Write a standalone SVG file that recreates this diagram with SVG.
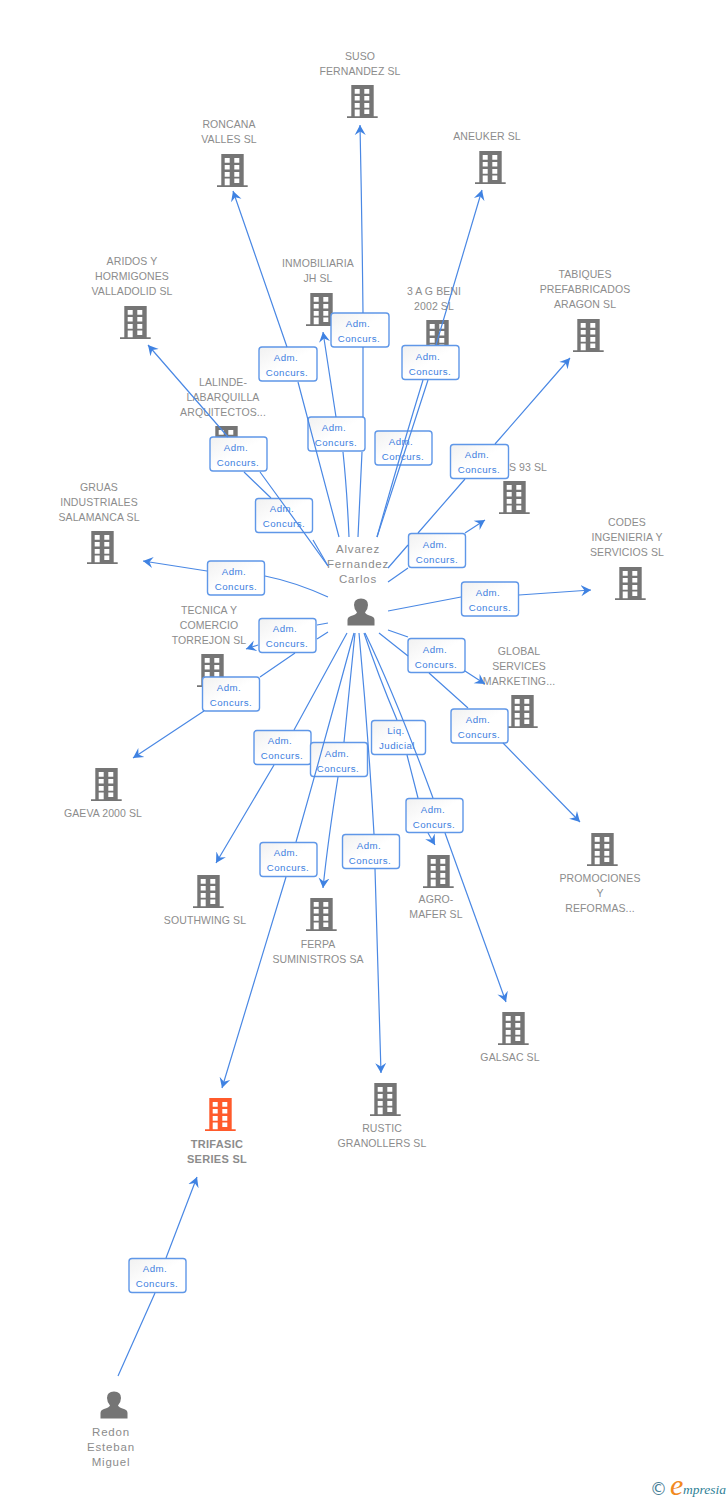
<svg xmlns="http://www.w3.org/2000/svg" width="728" height="1500" viewBox="0 0 728 1500">
<style>
text{font-family:"Liberation Sans",Arial,sans-serif}
.l{font-size:10.5px;fill:#8c8c8c;text-anchor:middle;letter-spacing:.1px}
.p{font-size:11.5px;fill:#8c8c8c;text-anchor:middle;letter-spacing:.8px}
.b{font-size:9.700px;fill:#3d80e0;text-anchor:middle;letter-spacing:.45px}
.r{fill:url(#bg);stroke:#5f97e8;stroke-width:1.4}
.c{fill:none;stroke:#4a88e4;stroke-width:1.2}
</style>
<defs>
<linearGradient id="bg" x1="0" y1="0" x2="1" y2="1"><stop offset="0" stop-color="#f1f1f1"/><stop offset=".5" stop-color="#fff"/></linearGradient>
<marker id="a" markerUnits="userSpaceOnUse" markerWidth="14" markerHeight="14" refX="10" refY="7" orient="auto"><path d="M0,1.500 L10,7 L0,12.500 L3.500,7z" fill="#3f82e2"/></marker>
<symbol id="bd" width="32" height="34" viewBox="0 0 32 34" overflow="visible">
<path fill-rule="evenodd" d="M5.300,0H27.700V31.300H31.700V33H1V31.300H5.300Z M8.700,4V8.700H13.700V4Z M18.300,4V8.700H23.300V4Z M8.700,11V15.500H13.700V11Z M18.300,11V15.500H23.300V11Z M8.700,18V22.700H13.700V18Z M18.300,18V22.700H23.300V18Z M8.700,24.500V31.300H13.700V24.500Z M18.300,24.500V29H23.300V24.500Z"/>
</symbol>
<symbol id="pr" width="28" height="28" viewBox="0 0 28 28" overflow="visible">
<path d="M0.500,27.500V22Q0.500,19 4,18Q9,16.500 10,14.500Q7,11 7,7Q7,0.500 14,0.500Q21,0.500 21,7Q21,11 18,14.500Q19,16.500 24,18Q27.500,19 27.500,22V27.500Z" fill="#757575"/>
</symbol>
</defs>
<g id="n1" fill="#757575"><use href="#bd" x="346" y="85"/><text class="l"><tspan x="360" y="60">SUSO</tspan><tspan x="360" y="75">FERNANDEZ SL</tspan></text></g>
<g id="n2" fill="#757575"><use href="#bd" x="216" y="154"/><text class="l"><tspan x="229" y="128">RONCANA</tspan><tspan x="229" y="143">VALLES SL</tspan></text></g>
<g id="n3" fill="#757575"><use href="#bd" x="474" y="151"/><text class="l" x="487" y="140">ANEUKER SL</text></g>
<g id="n4" fill="#757575"><use href="#bd" x="305" y="293"/><text class="l"><tspan x="318" y="267">INMOBILIARIA</tspan><tspan x="318" y="282">JH SL</tspan></text></g>
<g id="n5" fill="#757575"><use href="#bd" x="421" y="320"/><text class="l"><tspan x="434" y="295">3 A G BENI</tspan><tspan x="434" y="310">2002 SL</tspan></text></g>
<g id="n6" fill="#757575"><use href="#bd" x="119" y="306"/><text class="l"><tspan x="132" y="265">ARIDOS Y</tspan><tspan x="132" y="280">HORMIGONES</tspan><tspan x="132" y="295">VALLADOLID SL</tspan></text></g>
<g id="n7" fill="#757575"><use href="#bd" x="572" y="319"/><text class="l"><tspan x="585" y="278">TABIQUES</tspan><tspan x="585" y="293">PREFABRICADOS</tspan><tspan x="585" y="308">ARAGON SL</tspan></text></g>
<g id="n8" fill="#757575"><use href="#bd" x="210" y="426"/><text class="l"><tspan x="223" y="386">LALINDE-</tspan><tspan x="223" y="401">LABARQUILLA</tspan><tspan x="223" y="416">ARQUITECTOS...</tspan></text></g>
<g id="n9" fill="#757575"><use href="#bd" x="498" y="481"/><text class="l" x="528" y="471">S 93 SL</text></g>
<g id="n10" fill="#757575"><use href="#bd" x="86" y="531"/><text class="l"><tspan x="99" y="491">GRUAS</tspan><tspan x="99" y="506">INDUSTRIALES</tspan><tspan x="99" y="521">SALAMANCA SL</tspan></text></g>
<g id="n11" fill="#757575"><use href="#bd" x="614" y="567"/><text class="l"><tspan x="627" y="526">CODES</tspan><tspan x="627" y="541">INGENIERIA Y</tspan><tspan x="627" y="556">SERVICIOS SL</tspan></text></g>
<g id="n12" fill="#757575"><use href="#bd" x="196" y="654"/><text class="l"><tspan x="209" y="614">TECNICA Y</tspan><tspan x="209" y="629">COMERCIO</tspan><tspan x="209" y="644">TORREJON SL</tspan></text></g>
<g id="n13" fill="#757575"><use href="#bd" x="506" y="695"/><text class="l"><tspan x="519" y="655">GLOBAL</tspan><tspan x="519" y="670">SERVICES</tspan><tspan x="519" y="685">MARKETING...</tspan></text></g>
<g id="n14" fill="#757575"><use href="#bd" x="90" y="768"/><text class="l" x="103" y="817">GAEVA 2000 SL</text></g>
<g id="n15" fill="#757575"><use href="#bd" x="586" y="833"/><text class="l"><tspan x="600" y="882">PROMOCIONES</tspan><tspan x="600" y="897">Y</tspan><tspan x="600" y="912">REFORMAS...</tspan></text></g>
<g id="n16" fill="#757575"><use href="#bd" x="192" y="875"/><text class="l" x="205" y="924">SOUTHWING SL</text></g>
<g id="n17" fill="#757575"><use href="#bd" x="305" y="898"/><text class="l"><tspan x="318" y="948">FERPA</tspan><tspan x="318" y="963">SUMINISTROS SA</tspan></text></g>
<g id="n18" fill="#757575"><use href="#bd" x="422" y="855"/><text class="l"><tspan x="436" y="903">AGRO-</tspan><tspan x="436" y="918">MAFER SL</tspan></text></g>
<g id="n19" fill="#757575"><use href="#bd" x="497" y="1012"/><text class="l" x="510" y="1061">GALSAC SL</text></g>
<g id="n20" fill="#757575"><use href="#bd" x="369" y="1083"/><text class="l"><tspan x="382" y="1132">RUSTIC</tspan><tspan x="382" y="1147">GRANOLLERS SL</tspan></text></g>
<g id="n21" fill="#ff5a2b"><use href="#bd" x="204" y="1098"/><text class="l" style="font-weight:bold;font-size:11px;letter-spacing:.3px"><tspan x="217" y="1148">TRIFASIC</tspan><tspan x="217" y="1163">SERIES SL</tspan></text></g>
<g id="p1"><use href="#pr" x="347" y="598"/><text class="p"><tspan x="358" y="553">Alvarez</tspan><tspan x="358" y="568">Fernandez</tspan><tspan x="358" y="583">Carlos</tspan></text></g>
<g id="p2"><use href="#pr" x="100" y="1391"/><text class="p"><tspan x="111" y="1436">Redon</tspan><tspan x="111" y="1451">Esteban</tspan><tspan x="111" y="1466">Miguel</tspan></text></g>
<g id="labels">
<g><rect class="r" x="331" y="313" width="58" height="34" rx="3"/><text class="b"><tspan x="358" y="327">Adm.</tspan><tspan x="359" y="342">Concurs.</tspan></text></g>
<g><rect class="r" x="259" y="347" width="58" height="34" rx="3"/><text class="b"><tspan x="286" y="361">Adm.</tspan><tspan x="287" y="376">Concurs.</tspan></text></g>
<g><rect class="r" x="402" y="345.500" width="57" height="34" rx="3"/><text class="b"><tspan x="428" y="360">Adm.</tspan><tspan x="430" y="375">Concurs.</tspan></text></g>
<g><rect class="r" x="308" y="417" width="57" height="34" rx="3"/><text class="b"><tspan x="334" y="431">Adm.</tspan><tspan x="336" y="446">Concurs.</tspan></text></g>
<g><rect class="r" x="375" y="431" width="57" height="34" rx="3"/><text class="b"><tspan x="401" y="445">Adm.</tspan><tspan x="403" y="460">Concurs.</tspan></text></g>
<g><rect class="r" x="210" y="437" width="57" height="34" rx="3"/><text class="b"><tspan x="236" y="451">Adm.</tspan><tspan x="238" y="466">Concurs.</tspan></text></g>
<g><rect class="r" x="255.500" y="498.500" width="57" height="34" rx="3"/><text class="b"><tspan x="282" y="512">Adm.</tspan><tspan x="284" y="527">Concurs.</tspan></text></g>
<g><rect class="r" x="450.500" y="444.500" width="58" height="34" rx="3"/><text class="b"><tspan x="477" y="458">Adm.</tspan><tspan x="479" y="473">Concurs.</tspan></text></g>
<g><rect class="r" x="408.500" y="533.500" width="57" height="34" rx="3"/><text class="b"><tspan x="435" y="548">Adm.</tspan><tspan x="437" y="563">Concurs.</tspan></text></g>
<g><rect class="r" x="461.500" y="582" width="57" height="34" rx="3"/><text class="b"><tspan x="488" y="596">Adm.</tspan><tspan x="490" y="611">Concurs.</tspan></text></g>
<g><rect class="r" x="408" y="638.500" width="57" height="34" rx="3"/><text class="b"><tspan x="435" y="653">Adm.</tspan><tspan x="436" y="668">Concurs.</tspan></text></g>
<g><rect class="r" x="451" y="709" width="57" height="34" rx="3"/><text class="b"><tspan x="478" y="723">Adm.</tspan><tspan x="479" y="738">Concurs.</tspan></text></g>
<g><rect class="r" x="207.500" y="561" width="57" height="34" rx="3"/><text class="b"><tspan x="234" y="575">Adm.</tspan><tspan x="236" y="590">Concurs.</tspan></text></g>
<g><rect class="r" x="259" y="618.500" width="57" height="34" rx="3"/><text class="b"><tspan x="285" y="632">Adm.</tspan><tspan x="287" y="647">Concurs.</tspan></text></g>
<g><rect class="r" x="202.500" y="677" width="57" height="34" rx="3"/><text class="b"><tspan x="229" y="691">Adm.</tspan><tspan x="231" y="706">Concurs.</tspan></text></g>
<g><rect class="r" x="254" y="730.500" width="57" height="34" rx="3"/><text class="b"><tspan x="280" y="744">Adm.</tspan><tspan x="282" y="759">Concurs.</tspan></text></g>
<g><rect class="r" x="310.500" y="742.500" width="57" height="34" rx="3"/><text class="b"><tspan x="337" y="757">Adm.</tspan><tspan x="338" y="772">Concurs.</tspan></text></g>
<g><rect class="r" x="371.500" y="720.500" width="54" height="34" rx="3"/><text class="b"><tspan x="396" y="734">Liq.</tspan><tspan x="397" y="749">Judicial</tspan></text></g>
<g><rect class="r" x="406" y="798.500" width="57" height="34" rx="3"/><text class="b"><tspan x="433" y="813">Adm.</tspan><tspan x="434" y="828">Concurs.</tspan></text></g>
<g><rect class="r" x="260" y="842.500" width="57" height="34" rx="3"/><text class="b"><tspan x="286" y="856">Adm.</tspan><tspan x="288" y="871">Concurs.</tspan></text></g>
<g><rect class="r" x="342.500" y="834.500" width="57" height="34" rx="3"/><text class="b"><tspan x="369" y="849">Adm.</tspan><tspan x="370" y="864">Concurs.</tspan></text></g>
<g><rect class="r" x="129" y="1258.500" width="57" height="34" rx="3"/><text class="b"><tspan x="155" y="1272">Adm.</tspan><tspan x="157" y="1287">Concurs.</tspan></text></g>
</g>
<g id="connectors" class="c">
<path class="c" marker-end="url(#a)" d="M358,537Q360,495 362,452M363,417L363,347M363,313Q362,220 360,125"/>
<path class="c" marker-end="url(#a)" d="M339,537Q320,465 298,382M287,347L233,191"/>
<path class="c" marker-end="url(#a)" d="M349,537Q347,490 343,452M336,417L323,332"/>
<path class="c" marker-end="url(#a)" d="M377,537Q405,450 428,380M436,345L482,190"/>
<path class="c" d="M377,537Q400,455 423,380"/>
<path class="c" marker-end="url(#a)" d="M328,566Q295,520 260,472M228,437L148,345"/>
<path class="c" d="M328,566L313,540M271,498L244,472"/>
<path class="c" marker-end="url(#a)" d="M388,568L408,545M418,533L465,479M495,444L570,358"/>
<path class="c" marker-end="url(#a)" d="M388,582L408,568M465,533L485,520"/>
<path class="c" marker-end="url(#a)" d="M388,611L461,597M519,595L591,590"/>
<path class="c" marker-end="url(#a)" d="M388,630L408,637M465,671L485,684"/>
<path class="c" marker-end="url(#a)" d="M379,633L408,656M429,673L468,708M503,743L580,822"/>
<path class="c" marker-end="url(#a)" d="M328,597Q295,582 265,576M207,571L143,561"/>
<path class="c" marker-end="url(#a)" d="M328,623L317,625M258,645L246,649"/>
<path class="c" marker-end="url(#a)" d="M328,632L317,639M295,653L260,677M204,711L133,758"/>
<path class="c" marker-end="url(#a)" d="M347,633L294,730M274,765L216,863"/>
<path class="c" marker-end="url(#a)" d="M354,633Q325,740 296,842M286,877L222,1088"/>
<path class="c" marker-end="url(#a)" d="M355,633L344,742M338,777Q328,840 323,888"/>
<path class="c" marker-end="url(#a)" d="M359,633Q368,730 374,834M375,869L381,1073"/>
<path class="c" marker-end="url(#a)" d="M364,633Q378,675 397,720M407,755L418,798M428,833L435,845"/>
<path class="c" marker-end="url(#a)" d="M365,633Q395,695 433,798M445,833L506,1002"/>
<path class="c" marker-end="url(#a)" d="M118,1376L155,1293M166,1258L197,1177"/>
</g>
<g id="logo"><text x="650" y="1495" font-size="17" fill="#4a8098" style="font-family:'DejaVu Sans',sans-serif">©</text><text x="670" y="1495" font-size="30" font-style="italic" fill="#f28a1e" style="font-family:'Liberation Serif',serif">e</text><text x="683" y="1494" font-size="13.500" font-style="italic" fill="#2f7f96" style="font-family:'Liberation Serif',serif">mpresia</text></g>
</svg>
